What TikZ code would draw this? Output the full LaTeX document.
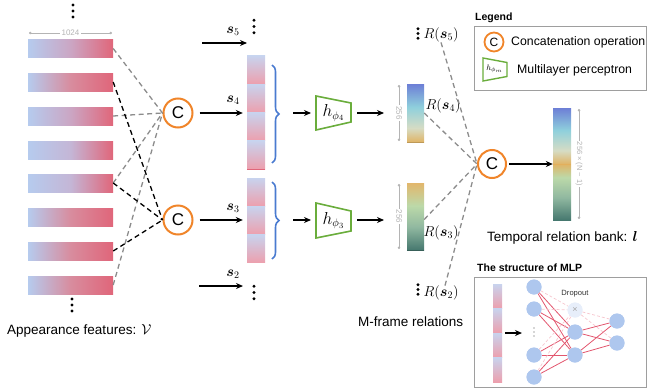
\documentclass[tikz,border=0pt]{standalone}
\usepackage{amsmath,bm}
\usepackage{fontspec}
\setmainfont{Liberation Sans}
\usetikzlibrary{arrows.meta,decorations.pathreplacing,calc}
\definecolor{barblue}{HTML}{B6CBEE}
\definecolor{barred}{HTML}{E0667A}
\definecolor{midA}{HTML}{CBA6C4}
\definecolor{midB}{HTML}{C4B6D6}
\definecolor{midR}{HTML}{D88C9E}
\definecolor{segtop}{HTML}{C8D3EE}
\definecolor{segbot}{HTML}{ED9FAD}
\definecolor{corange}{HTML}{F0852A}
\definecolor{cgreen}{HTML}{6AAD3C}
\definecolor{braceblue}{HTML}{4A7BD0}
\definecolor{dashgray}{HTML}{8C8C8C}
\definecolor{dimgray}{HTML}{B4B4B4}
\definecolor{nodeblue}{HTML}{AEC7EE}
\definecolor{mlpred}{HTML}{E2566E}
\definecolor{mlpfade}{HTML}{F6C6CE}
\definecolor{gA}{HTML}{E0B466}
\definecolor{gB}{HTML}{D6DCC4}
\definecolor{gC}{HTML}{8FD0DC}
\definecolor{gD}{HTML}{6D7FD6}
\definecolor{tA}{HTML}{46786F}
\definecolor{tB}{HTML}{90B8A0}
\definecolor{tC}{HTML}{BCD9A9}
\definecolor{tD}{HTML}{E2B76C}
\pgfdeclareverticalshading{rfour}{100bp}{color(0bp)=(gA); color(25bp)=(gA); color(37bp)=(gB); color(55bp)=(gC); color(75bp)=(gD); color(100bp)=(gD)}
\pgfdeclareverticalshading{rthree}{100bp}{color(0bp)=(tA); color(25bp)=(tA); color(42bp)=(tB); color(58bp)=(tC); color(75bp)=(tD); color(100bp)=(tD)}
\pgfdeclareverticalshading{rbank}{100bp}{color(0bp)=(tA); color(25bp)=(tA); color(35bp)=(tB); color(44bp)=(tC); color(50bp)=(gA); color(56bp)=(gB); color(65bp)=(gC); color(75bp)=(gD); color(100bp)=(gD)}
\newcommand{\threedots}[3]{\fill (#1,#2-#3) circle (1.6pt) (#1,#2) circle (1.6pt) (#1,#2+#3) circle (1.6pt);}
\begin{document}
\begin{tikzpicture}[x=1pt,y=-1pt,
  bar/.style={inner sep=0pt, minimum width=85pt, minimum height=18pt, left color=barblue, right color=barred},
  seg/.style={inner sep=0pt, minimum width=18pt, minimum height=28.3pt, top color=segtop, bottom color=segbot},
  sseg/.style={inner sep=0pt, minimum width=9pt, minimum height=24.5pt, top color=segtop, bottom color=segbot},
  vec/.style={inner sep=0pt, minimum width=17pt, shade},
  cat/.style={circle, draw=corange, line width=2pt, minimum size=29pt, inner sep=0pt, font=\fontsize{17}{17}\selectfont},
  mlpbox/.style={draw=cgreen, line width=1.6pt, line join=miter},
  gdash/.style={draw=dashgray, line width=1.3pt, dash pattern=on 5pt off 3.5pt},
  kdash/.style={draw=black, line width=1.3pt, dash pattern=on 5pt off 3.5pt},
  arr/.style={-{Stealth[length=7pt,width=6pt]}, line width=1.6pt},
  dim/.style={{Circle[length=2.6pt]}-{Circle[length=2.6pt]}, draw=dimgray, line width=0.7pt},
  dimtext/.style={fill=white, inner sep=1.2pt, text=dimgray, font=\fontsize{8}{8}\selectfont},
  mlab/.style={font=\fontsize{14}{14}\selectfont, inner sep=0pt},
  lbl/.style={font=\fontsize{13.5}{15}\selectfont, inner sep=0pt, anchor=west},
  nn/.style={circle, fill=nodeblue, minimum size=15pt, inner sep=0pt},
  sol/.style={draw=mlpred, line width=0.8pt},
  fad/.style={draw=mlpfade, line width=0.7pt, dash pattern=on 3pt off 2pt},
  brc/.style={draw=braceblue, line width=1.6pt, decorate, decoration={brace, amplitude=7pt, aspect=0.5}},
  frame/.style={draw=black!38, line width=1pt}
]
\useasboundingbox (0,0) rectangle (647,391);

% ---------- appearance features ----------
\threedots{73}{11}{6}
\draw[dim] (29,33) -- (112,33) node[midway, dimtext] (w1024) {1024};
\node[bar, middle color=midA] (b1) at (70.5,48.5) {};
\node[bar, middle color=midR] (b2) at (70.5,82) {};
\node[bar, middle color=midA] (b3) at (70.5,116) {};
\node[bar, middle color=midB] (b4) at (70.5,150) {};
\node[bar, middle color=midB] (b5) at (70.5,183) {};
\node[bar, middle color=midR] (b6) at (70.5,217) {};
\node[bar, middle color=midR] (b7) at (70.5,251) {};
\node[bar, middle color=midR] (b8) at (70.5,285) {};
\threedots{72}{305}{6}
\node[lbl] (apf) at (7,331) {Appearance features: $\mathcal{V}$};

% ---------- concatenations ----------
\node[cat] (c1) at (178,113) {C};
\node[cat] (c2) at (178,220) {C};
\draw[gdash] (b1.east) -- (c1.west);
\draw[gdash] (b3.east) -- (c1.west);
\draw[gdash] (b5.east) -- (c1.west);
\draw[gdash] (b8.east) -- (c1.west);
\draw[kdash] (b2.east) -- (c2.west);
\draw[kdash] (b5.east) -- (c2.west);
\draw[kdash] (b7.east) -- (c2.west);

% ---------- stacked vectors ----------
\node[seg] (v4a) at (256,70.1) {};
\node[seg] (v4b) at (256,98.4) {};
\node[seg] (v4c) at (256,126.7) {};
\node[seg] (v4d) at (256,155) {};
\draw[barred, line width=0.8pt] (v4d.south west) -- (v4d.south east);
\node[seg] (v3a) at (256,192.2) {};
\node[seg] (v3b) at (256,220.5) {};
\node[seg] (v3c) at (256,248.8) {};

\coordinate (s5a) at (202,43);
\coordinate (s5b) at (247,43);
\coordinate (s2a) at (199,286);
\coordinate (s2b) at (243,286);
\draw[arr] (s5a) -- (s5b);
\node[mlab] (ls5) at (233,31) {$\bm{s}_5$};
\threedots{254}{26.5}{6.3}
\draw[arr, shorten <=6pt, shorten >=4pt] (c1.east) -- (c1 -| v4a.west);
\node[mlab] (ls4) at (233,100) {$\bm{s}_4$};
\draw[arr, shorten <=6pt, shorten >=4pt] (c2.east) -- (c2 -| v3a.west);
\node[mlab] (ls3) at (233,208) {$\bm{s}_3$};
\draw[arr] (s2a) -- (s2b);
\node[mlab] (ls2) at (233,274) {$\bm{s}_2$};
\threedots{254}{292.5}{6.3}

% ---------- braces ----------
\draw[brc] (272,65) -- (272,163);
\draw[brc] (272,182) -- (272,259);

% ---------- MLPs ----------
\draw[mlpbox] (316,96) -- (351,103) -- (351,122) -- (316,130) -- cycle;
\node[font=\fontsize{16}{16}\selectfont, inner sep=0pt] (m4) at (333.5,113) {$h_{\phi_4}$};
\draw[mlpbox] (316,203) -- (351,211) -- (351,231) -- (316,238) -- cycle;
\node[font=\fontsize{16}{16}\selectfont, inner sep=0pt] (m3) at (333.5,220.5) {$h_{\phi_3}$};
\coordinate (m4l) at (316,113);
\coordinate (m4r) at (351,113);
\coordinate (m3l) at (316,220);
\coordinate (m3r) at (351,220);
\draw[arr] (293,113) -- ($(m4l)+(-5,0)$);
\draw[arr] (293,220) -- ($(m3l)+(-5,0)$);

% ---------- relation vectors ----------
\node[vec, shading=rfour, minimum height=58pt] (r4) at (415.5,113) {};
\draw[gA!85!black, line width=0.8pt] (r4.south west) -- (r4.south east);
\node[vec, shading=rthree, minimum height=67pt] (r3) at (415.5,216.5) {};
\draw[tA!80!black, line width=0.8pt] (r3.south west) -- (r3.south east);
\draw[arr] ($(m4r)+(6,0)$) -- ($(m4r)+(33,0)$);
\draw[arr] ($(m3r)+(6,0)$) -- ($(m3r)+(33,0)$);
\draw[dim] (399,85) -- (399,141) node[midway, dimtext, rotate=-90] (d4) {256};
\draw[dim] (399,184) -- (399,249) node[midway, dimtext, rotate=-90] (d3) {256};

\threedots{418}{33.5}{4.8}
\node[mlab] (r5l) at (441,35) {$R(\bm{s}_5)$};
\node[mlab] (r4l) at (443,106) {$R(\bm{s}_4)$};
\node[mlab] (r3l) at (441,233) {$R(\bm{s}_3)$};
\threedots{418}{289.5}{4.8}
\node[mlab] (r2l) at (441,293) {$R(\bm{s}_2)$};
\node[lbl] (mfr) at (358,322) {M-frame relations};

% ---------- final concatenation ----------
\node[cat, minimum size=28pt] (c3) at (492,164) {C};
\draw[gdash] (r5l.south) -- (c3.west);
\draw[gdash] (r4.east) -- (c3.west);
\draw[gdash] ($(r3.east)+(0,3)$) -- (c3.west);
\draw[gdash] ($(r2l.north)+(4,0)$) -- (c3.west);

\node[vec, shading=rbank, minimum width=18pt, minimum height=112pt] (bank) at (562,164) {};
\draw[gA!90!orange, line width=0.8pt] (bank.west) -- (bank.east);
\draw[arr, shorten <=2pt] (c3.east) -- (bank.west);
\draw[dim] (579,109) -- (579,219) node[midway, dimtext, font=\fontsize{7.5}{8}\selectfont, rotate=-90] (dbank) {256 × (N − 1)};
\node[lbl] (tbank) at (487,238) {Temporal relation bank: $\bm{l}$};

% ---------- legend ----------
\node[font=\fontsize{10.5}{11}\bfseries, inner sep=0pt, anchor=west] (legt) at (475,18) {Legend};
\draw[frame] (474,26) rectangle (646,90);
\node[circle, draw=corange, line width=1.8pt, minimum size=19pt, inner sep=0pt, font=\fontsize{12}{12}\selectfont] (lc) at (494,42) {C};
\node[font=\fontsize{12.3}{13}\selectfont, inner sep=0pt, anchor=west] (lct) at (511,42) {Concatenation operation};
\draw[mlpbox, line width=1.4pt] (483,58) -- (507,62.5) -- (507,76.5) -- (483,81) -- cycle;
\node[font=\fontsize{8}{8}\selectfont, inner sep=0pt] (lm) at (494.5,69) {$h_{\phi_m}$};
\node[font=\fontsize{12.3}{13}\selectfont, inner sep=0pt, anchor=west] (lmt) at (517,70) {Multilayer perceptron};

% ---------- structure of MLP ----------
\node[font=\fontsize{10.5}{11}\bfseries, inner sep=0pt, anchor=west] (mt) at (477,268) {The structure of MLP};
\draw[frame] (474,277) rectangle (646,387);
\node[sseg] (ua) at (497.5,296.25) {};
\node[sseg] (ub) at (497.5,320.75) {};
\node[sseg] (uc) at (497.5,345.25) {};
\node[sseg] (ud) at (497.5,369.75) {};
\coordinate (ua0) at (505,333);
\coordinate (ua1) at (522,333);
\draw[arr, line width=1.4pt] (ua0) -- (ua1);
\node[nn] (i1) at (534,287) {};
\node[nn] (i2) at (534,309) {};
\begin{scope}[black!70]
\fill (534,328) circle (0.7pt) (534,332) circle (0.7pt) (534,336) circle (0.7pt);
\end{scope}
\node[nn] (i4) at (534,355) {};
\node[nn] (i5) at (534,377) {};
\node[nn, fill=nodeblue!30] (hd) at (575,310) {};
\node[font=\fontsize{7.6}{8}\selectfont, inner sep=0pt, text=black!80] (drop) at (575,294) {Dropout};
\node[nn] (h2) at (575,332) {};
\node[nn] (h3) at (575,355) {};
\node[nn] (o1) at (617,321) {};
\node[nn] (o2) at (617,343) {};
\foreach \a in {i1,i2,i4,i5}{
  \draw[fad] (\a) -- (hd);
  \draw[sol] (\a) -- (h2);
  \draw[sol] (\a) -- (h3);
}
\foreach \b in {o1,o2}{
  \draw[fad] (hd) -- (\b);
  \draw[sol] (h2) -- (\b);
  \draw[sol] (h3) -- (\b);
}
\foreach \n in {i1,i2,i4,i5,h2,h3,o1,o2}{ \fill[nodeblue] (\n) circle (7.5pt); }
\fill[nodeblue!30] (hd) circle (7.5pt);
\node[text=black!35, font=\fontsize{9}{9}\selectfont, inner sep=0pt] (hx) at (575,310) {×};
\end{tikzpicture}
\end{document}
